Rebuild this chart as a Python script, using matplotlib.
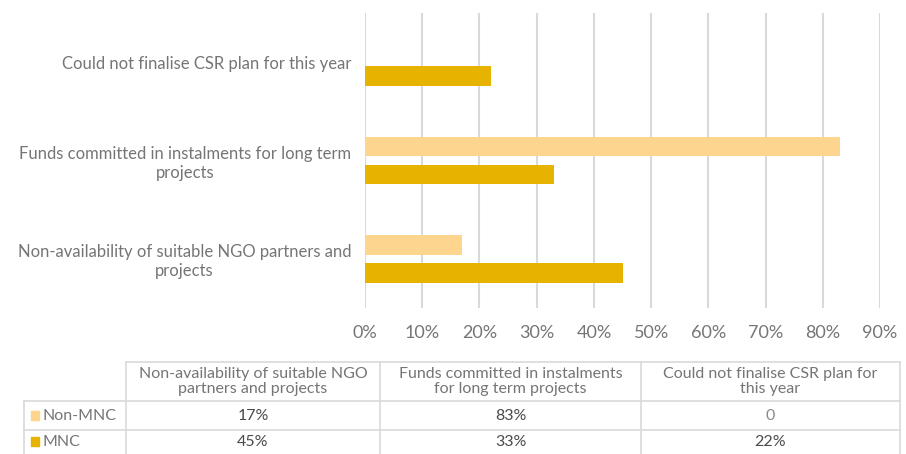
import matplotlib.pyplot as plt
import numpy as np

plt.rcParams['font.family'] = ['Lato', 'DejaVu Sans']

# Reasons, listed bottom to top as in the bar chart
categories = ["Non-availability of suitable NGO partners and\nprojects",
              "Funds committed in instalments for long term\nprojects",
              "Could not finalise CSR plan for this year"]
table_headers = ["Non-availability of suitable NGO\npartners and projects",
                 "Funds committed in instalments\nfor long term projects",
                 "Could not finalise CSR plan for\nthis year"]
non_mnc = [17, 83, 0]
mnc = [45, 33, 22]
non_mnc_labels = ["17%", "83%", "0"]
mnc_labels = ["45%", "33%", "22%"]
ticks = [0, 10, 20, 30, 40, 50, 60, 70, 80, 90]

light = "#fdd58f"
gold = "#e6b300"
text_col = "#757575"
grid_col = "#d9d9d9"

W, H = 906, 454
fig = plt.figure(figsize=(W / 100, H / 100), dpi=100)
ax = fig.add_axes([365 / W, (H - 308) / H, (880 - 365) / W, (308 - 13) / H])

y = np.arange(len(categories))
off = 0.142
ax.barh(y + off, non_mnc, height=0.2, color=light)
ax.barh(y - off, mnc, height=0.2, color=gold)

ax.set_xlim(0, 90)
ax.set_ylim(-0.5, 2.5)
ax.set_xticks(ticks)
ax.set_xticklabels([f"{t}%" for t in ticks])
ax.set_yticks(y)
ax.set_yticklabels(categories, ha="right", multialignment="center")
ax.tick_params(axis="y", length=0, pad=10, labelsize=12, labelcolor=text_col)
ax.tick_params(axis="x", length=0, pad=12, labelsize=13, labelcolor=text_col)
ax.grid(axis="x", color=grid_col, linewidth=1.5)
ax.set_axisbelow(True)
for s in ax.spines.values():
    s.set_visible(False)

# Data table under the chart, drawn on a full-figure overlay
tab = fig.add_axes([0, 0, 1, 1])
tab.set_xlim(0, W)
tab.set_ylim(H, 0)
tab.axis("off")
lw = 1.2
cols = [126, 380, 641, 900]
top, hdr_bot, row1_bot, bot = 362, 401, 430, 460
tab.plot([cols[0], cols[-1]], [top, top], color=grid_col, lw=lw)
for yy in (hdr_bot, row1_bot):
    tab.plot([24, cols[-1]], [yy, yy], color=grid_col, lw=lw)
for xx in cols:
    tab.plot([xx, xx], [top, bot], color=grid_col, lw=lw)
tab.plot([24, 24], [hdr_bot, bot], color=grid_col, lw=lw)

for i, h in enumerate(table_headers):
    cx = (cols[i] + cols[i + 1]) / 2
    tab.text(cx, (top + hdr_bot) / 2, h, ha="center", va="center",
             fontsize=11.5, color=text_col, linespacing=1.05)
    tab.text(cx, (hdr_bot + row1_bot) / 2, non_mnc_labels[i], ha="center", va="center",
             fontsize=11.5, color="#4a4a4a" if non_mnc[i] else "#8a8a8a")
    tab.text(cx, (row1_bot + bot) / 2 - 3, mnc_labels[i], ha="center", va="center",
             fontsize=11.5, color="#4a4a4a")

for name, c, yy in (("Non-MNC", light, (hdr_bot + row1_bot) / 2),
                    ("MNC", gold, (row1_bot + bot) / 2 - 3)):
    tab.add_patch(plt.Rectangle((31, yy - 5), 8, 9, color=c))
    tab.text(43, yy, name, ha="left", va="center", fontsize=11.5, color=text_col)

fig.savefig("out.png", dpi=100)
